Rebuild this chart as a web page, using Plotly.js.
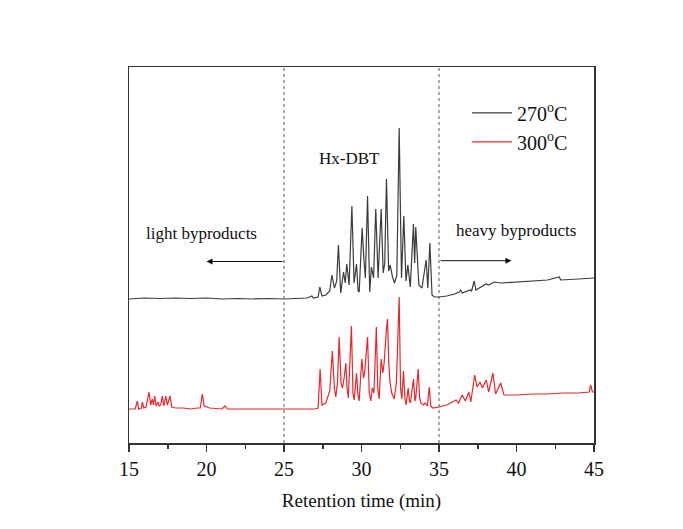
<!DOCTYPE html>
<html>
<head>
<meta charset="utf-8">
<script src="https://cdn.plot.ly/plotly-3.0.1.min.js"></script>
<style>html,body{margin:0;padding:0;background:#fff;}#chart{width:683px;height:529px;}</style>
</head>
<body>
<div id="chart"></div>
<script>
// Retention time (min) and detector signal (arbitrary units)
const timeA = [15.0,16,17,18,19,20,21,22,23,24,25,26,26.5,26.8,26.9,27.2,27.31,27.45,27.7,27.95,28.09,28.25,28.4,28.51,28.66,28.84,28.95,29.05,29.2,29.38,29.52,29.68,29.78,29.85,30.04,30.15,30.25,30.39,30.53,30.64,30.78,30.92,31.07,31.27,31.4,31.5,31.61,31.75,31.85,32.0,32.13,32.28,32.43,32.58,32.73,32.87,32.99,33.15,33.35,33.43,33.5,33.7,33.9,34.17,34.28,34.41,34.55,34.7,35.0,35.5,36.0,36.3,36.4,36.5,36.8,37.0,37.1,37.27,37.38,37.6,38.03,38.2,38.56,39.0,40.18,41.0,42.0,42.76,42.85,44.0,45.0];
const signalA = [144,145,144.5,145,144.5,145,144,144.5,144,144.5,144,144.5,145,147,145,146,156,147,148,152,168,155,162,198,150,171,160,179,158,237,160,179,152,151,215,185,165,247,151,176,165,234,165,234,170,180,264,172,178,166,160,168,315,165,227,162,178,156,219,180,216,158,155,183,155,200,148,146,146,147,149,151,153,150,152,153,152,162,153,155,159,158,161,160,161,162,163,166,163,164,165];

const timeB = [15.0,15.4,15.54,15.62,15.8,15.86,15.95,16.1,16.29,16.4,16.5,16.58,16.66,16.75,16.87,16.95,17.05,17.15,17.25,17.37,17.47,17.65,17.75,18.0,18.5,19.0,19.4,19.6,19.73,19.85,20.2,21.0,21.2,21.35,22,23,24,25,26,27,27.2,27.33,27.45,27.7,27.95,28.12,28.25,28.34,28.45,28.56,28.68,28.77,28.88,28.99,29.07,29.15,29.35,29.45,29.53,29.68,29.77,29.85,30.02,30.13,30.2,30.39,30.5,30.6,30.7,30.8,30.96,31.05,31.14,31.27,31.38,31.46,31.61,31.68,31.76,31.83,31.95,32.11,32.25,32.43,32.52,32.6,32.71,32.8,32.88,33.01,33.1,33.16,33.35,33.45,33.5,33.66,33.75,33.83,34.0,34.1,34.25,34.37,34.47,34.6,35.0,35.5,36.1,36.25,36.5,36.7,36.93,37.05,37.3,37.45,37.64,37.8,38.05,38.2,38.48,38.65,38.98,39.19,40,41,42,43,44,44.7,44.78,44.9,45.0];
const signalB = [34,34,42,34,35,41,35,36,51,38,44,38,47,37,41,37,38,47,37,47,38,47,36,35,35,34,35,35,49,37,35,34,37,34,34,34,33.5,34,34,34,35,74,38,40,52,92,55,46,60,106,60,55,65,80,55,45,117,50,43,70,48,42,84,65,70,106,50,42,55,50,116,55,44,84,70,80,114,124,80,62,50,44,60,146,55,44,72,45,38,55,42,40,64,42,45,74,45,40,38,40,37,56,37,35,36,38,43,40,48,42,51,41,68,56,61,55,63,51,70,49,60,48,48,49,49,50,50,51,58,51,51];

const seriesNames = ['270<sup>o</sup>C', '300<sup>o</sup>C'];
const xTicks = [15,20,25,30,35,40,45];
const dividers = [25, 35];

const serif = 'Liberation Serif, Times New Roman, serif';

const traces = [
  {x: timeA, y: signalA, type: 'scatter', mode: 'lines', name: seriesNames[0],
   line: {color: '#3c3c3c', width: 1.2}},
  {x: timeB, y: signalB, type: 'scatter', mode: 'lines', name: seriesNames[1],
   line: {color: '#e8262b', width: 1.2}}
];

const shapes = dividers.map(d => ({
  type: 'line', xref: 'x', yref: 'paper', x0: d, x1: d, y0: 0, y1: 1,
  line: {color: '#555', width: 1, dash: 'dot'}
}));

const annotations = [
  {x: 29.2, y: 285, xref: 'x', yref: 'y', text: 'Hx-DBT', showarrow: false,
   font: {family: serif, size: 17, color: '#111'}},
  {x: 19.7, y: 210, xref: 'x', yref: 'y', text: 'light byproducts', showarrow: false,
   font: {family: serif, size: 17, color: '#111'}},
  {x: 39.97, y: 213, xref: 'x', yref: 'y', text: 'heavy byproducts', showarrow: false,
   font: {family: serif, size: 17, color: '#111'}},
  {x: 20.0, y: 181.5, ax: 25, ay: 181.5, xref: 'x', yref: 'y', axref: 'x', ayref: 'y',
   text: '', showarrow: true, arrowhead: 2, arrowsize: 1.2, arrowwidth: 1, arrowcolor: '#111'},
  {x: 39.67, y: 182.3, ax: 35, ay: 182.3, xref: 'x', yref: 'y', axref: 'x', ayref: 'y',
   text: '', showarrow: true, arrowhead: 2, arrowsize: 1.2, arrowwidth: 1, arrowcolor: '#111'}
];

const layout = {
  width: 683, height: 529,
  margin: {l: 129, r: 89, t: 67, b: 86},
  paper_bgcolor: '#fff', plot_bgcolor: '#fff',
  showlegend: true,
  legend: {x: 0.727, y: 0.93, xanchor: 'left', yanchor: 'top',
           font: {family: serif, size: 20, color: '#111'},
           bgcolor: 'rgba(0,0,0,0)', tracegroupgap: 0, itemwidth: 40},
  xaxis: {
    range: [15, 45], tickvals: xTicks, ticktext: xTicks.map(String),
    ticks: 'outside', ticklen: 7, tickwidth: 1.5, tickcolor: '#333',
    minor: {dtick: 2.5, tick0: 15, ticks: 'outside', ticklen: 4, tickwidth: 1.5, tickcolor: '#333'},
    showline: true, linecolor: '#333', linewidth: 1.5, mirror: true,
    showgrid: false, zeroline: false,
    tickfont: {family: serif, size: 20, color: '#111'},
    title: {text: 'Retention time (min)', font: {family: serif, size: 19, color: '#111'}, standoff: 15}
  },
  yaxis: {
    range: [0, 376], showticklabels: false, ticks: '',
    showline: true, linecolor: '#333', linewidth: 1.5, mirror: true,
    showgrid: false, zeroline: false
  },
  shapes: shapes,
  annotations: annotations
};

Plotly.newPlot('chart', traces, layout, {displayModeBar: false, staticPlot: true});
</script>
</body>
</html>
